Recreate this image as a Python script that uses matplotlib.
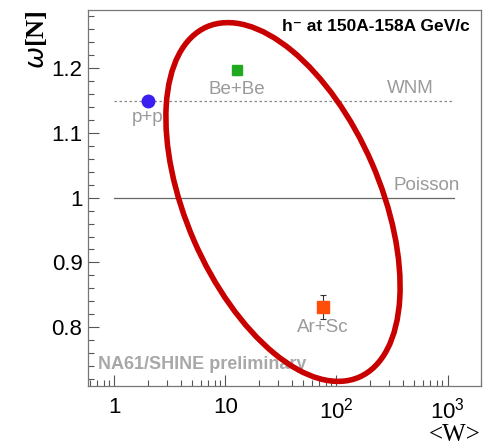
import matplotlib
matplotlib.use('Agg')
import matplotlib.pyplot as plt
from matplotlib.patches import Ellipse
from matplotlib.ticker import LogLocator, MultipleLocator, FixedLocator
import numpy as np

plt.rcParams.update({
    'font.family': ['Liberation Sans', 'DejaVu Sans'],
    'xtick.direction': 'in',
    'ytick.direction': 'in',
})

# scaled variance of negatively charged hadrons vs mean number of wounded nucleons
systems = ['p+p', 'Be+Be', 'Ar+Sc']
mean_w = [2.0, 12.8, 75.0]
omega = [1.150, 1.197, 0.831]
omega_err = [0.003, 0.007, 0.018]
markers = ['o', 's', 's']
colors = ['#3a1ff0', '#1faa1f', '#ff4d0a']
sizes = [9, 7.5, 8.5]

wnm_value = 1.15
poisson_value = 1.0
ref_range = [1.0, 1150.0]

fig = plt.figure(figsize=(4.87, 4.46), dpi=100)
ax = fig.add_axes([88 / 487, 60 / 446, 393 / 487, 376 / 446])

ax.set_xscale('log')
ax.set_xlim(0.58, 2000)
ax.set_ylim(0.709, 1.29)

# reference lines
ax.plot(ref_range, [wnm_value, wnm_value], ls=(0, (2, 2)), color='#888888', lw=0.9)
ax.plot(ref_range, [poisson_value, poisson_value], ls='-', color='#666666', lw=0.9)
ax.text(464, wnm_value + 0.005, 'WNM', color='#9a9a9a', fontsize=13.5,
        ha='center', va='bottom')
ax.text(650, poisson_value + 0.005, 'Poisson', color='#9a9a9a', fontsize=13.5,
        ha='center', va='bottom')

label_offsets = [-0.013, -0.016, -0.019]
for x, y, e, m, c, s, name, dy in zip(mean_w, omega, omega_err, markers,
                                       colors, sizes, systems, label_offsets):
    ax.errorbar(x, y, yerr=e, fmt=m, color=c, ms=s, mec=c, ecolor='#333333',
                elinewidth=0.8, capsize=2, capthick=0.8, zorder=3)
    ax.text(x, y + dy, name, color='#9a9a9a', fontsize=13.5, ha='center', va='top')

ax.text(0.972, 0.975, 'h\u207b at 150A-158A GeV/c', transform=ax.transAxes,
        ha='right', va='top', fontsize=12.5, fontweight='bold', color='black')
ax.text(0.025, 0.035, 'NA61/SHINE preliminary', transform=ax.transAxes,
        ha='left', va='bottom', fontsize=13, fontweight='bold', color='#a8a8a8')

# ticks
ax.xaxis.set_major_locator(FixedLocator([1, 10, 100, 1000]))
ax.xaxis.set_minor_locator(LogLocator(base=10, subs=np.arange(2, 10), numticks=20))
ax.set_xticklabels(['1', '10', r'$\mathregular{10^2}$', r'$\mathregular{10^3}$'])
ax.yaxis.set_major_locator(MultipleLocator(0.1))
ax.yaxis.set_minor_locator(MultipleLocator(0.02))
ax.set_yticks([0.8, 0.9, 1.0, 1.1, 1.2])
ax.set_yticklabels(['0.8', '0.9', '1', '1.1', '1.2'])
ax.tick_params(which='major', length=8, width=0.8, color='#555555',
               labelsize=16, pad=4)
ax.tick_params(which='minor', length=4, width=0.8, color='#555555')
ax.tick_params(axis='x', which='major', pad=8)
for sp in ax.spines.values():
    sp.set_color('#777777')
    sp.set_linewidth(0.9)

ax.set_ylabel(r'$\omega$[N]', fontsize=19, family='Liberation Serif',
              fontweight='bold')
ax.yaxis.set_label_coords(-0.1, 1.0)
ax.yaxis.label.set_ha('right')
ax.set_xlabel('<W>', fontsize=18, family='Liberation Serif')
ax.xaxis.set_label_coords(1.0, -0.1)
ax.xaxis.label.set_ha('right')

# red highlight ring drawn over the whole figure in pixel units
over = fig.add_axes([0, 0, 1, 1], facecolor='none')
over.set_xlim(0, 487)
over.set_ylim(446, 0)
over.axis('off')
over.add_patch(Ellipse((283, 202), width=194, height=382, angle=-23.5,
                       fill=False, edgecolor='#c80000', lw=4))

fig.savefig('out.png', dpi=100, facecolor='white')
